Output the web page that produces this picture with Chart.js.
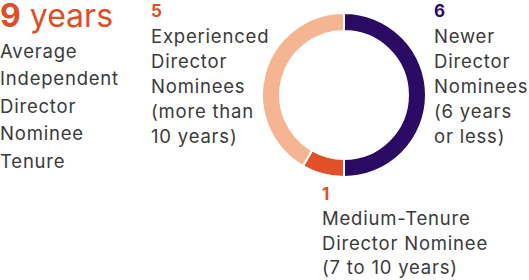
<!DOCTYPE html>
<html><head><meta charset="utf-8">
<script src="https://cdn.jsdelivr.net/npm/chart.js@4"></script>
<style>
html,body{margin:0;padding:0;background:#fff;width:529px;height:280px;overflow:hidden;font-family:"Inter",sans-serif;color:#3a3a3a}
.b{position:absolute;font-size:18.5px;letter-spacing:0.8px;white-space:nowrap}
.n{position:absolute;font-weight:700;font-size:17px;line-height:20px;white-space:nowrap}
#wrap{position:absolute;left:261px;top:12px;width:166px;height:166px}
</style></head><body>
<div class="n" style="left:0;top:0;color:#e04e28;font-size:32px;line-height:32px">9<span style="font-weight:400"> years</span></div>
<div class="b" style="left:0;top:37.5px;line-height:27.5px">Average<br>Independent<br>Director<br>Nominee<br>Tenure</div>
<div class="n" style="left:151px;top:1px;color:#e04e28">5</div>
<div class="b" style="left:151px;top:23.8px;line-height:25px">Experienced<br>Director<br>Nominees<br>(more than<br>10 years)</div>
<div class="n" style="left:434px;top:1px;color:#2b0a63">6</div>
<div class="b" style="left:434px;top:23.8px;line-height:25px">Newer<br>Director<br>Nominees<br>(6 years<br>or less)</div>
<div class="n" style="left:322px;top:184px;color:#e04e28">1</div>
<div class="b" style="left:322px;top:206px;line-height:24.5px">Medium-Tenure<br>Director Nominee<br>(7 to 10 years)</div>
<div id="wrap"><canvas id="c"></canvas></div>
<script>
const categories = ["Newer Director Nominees (6 years or less)", "Medium-Tenure Director Nominee (7 to 10 years)", "Experienced Director Nominees (more than 10 years)"];
const counts = [6, 1, 5];
const colors = ["#2b0a63", "#e2502a", "#f5b592"];
new Chart(document.getElementById('c'), {
  type: 'doughnut',
  data: { labels: categories, datasets: [{ data: counts, backgroundColor: colors, borderColor: '#ffffff', borderWidth: 2 }] },
  options: {
    responsive: true, maintainAspectRatio: false, animation: false,
    cutout: '78%',
    layout: { padding: 0 },
    plugins: { legend: { display: false }, tooltip: { enabled: false } }
  }
});
</script>
</body></html>
